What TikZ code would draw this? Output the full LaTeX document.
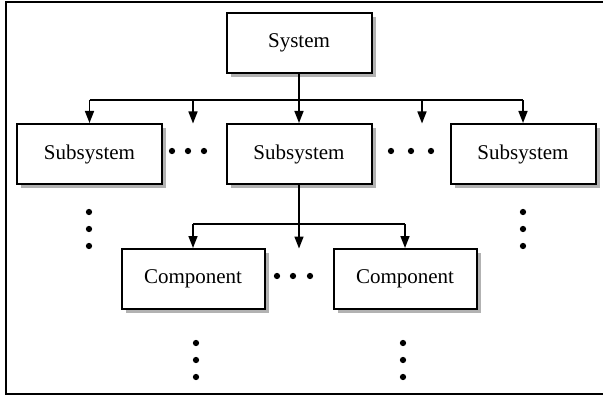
\documentclass[tikz,border=0pt]{standalone}
\usepackage{fontspec}
\setmainfont{Liberation Serif}
\usetikzlibrary{positioning, arrows.meta, shadows}

\tikzset{
  block/.style={draw, line width=2pt, fill=white, minimum width=145pt, minimum height=60pt,
    inner sep=0pt, font=\fontsize{21}{25}\selectfont,
    drop shadow={shadow xshift=4pt, shadow yshift=-4pt, fill=gray!60, opacity=1}},
  link/.style={line width=1.6pt},
  arr/.style={link, -{Triangle[length=12pt,width=9pt]}},
  dot/.style={fill, circle, inner sep=0pt, minimum size=6.3pt}
}

\begin{document}
\begin{tikzpicture}[x=1pt, y=-1pt]
\useasboundingbox (0,0) rectangle (603,396);
% frame (right side runs off the page)
\draw[line width=2pt] (610,2) -- (6,2) -- (6,394) -- (610,394);
% blocks
\node[block] (sys) at (299,43) {System};
\node[block] (sub1) at (89.5,154) {Subsystem};
\node[block] (sub2) at (299,154) {Subsystem};
\node[block] (sub3) at (523,154) {Subsystem};
\node[block, minimum width=143pt] (comp1) at (193,279) {Component};
\node[block, minimum width=143pt] (comp2) at (405,279) {Component};
% bus levels and loose arrow ends
\coordinate (bus1) at (0,100);
\coordinate (bus2) at (0,224);
\coordinate (gap1) at (193,123.5);
\coordinate (gap2) at (422,123.5);
\coordinate (gap3) at (299,248.5);
% system to subsystems
\draw[link] (sys.south) -- (sys.south |- bus1);
\draw[link] (sub1.north |- bus1) -- (sub3.north |- bus1);
\foreach \n in {sub1, sub2, sub3, gap1, gap2}
  \draw[arr] (\n |- bus1) -- (\n);
% subsystem to components
\draw[link] (sub2.south) -- (sub2.south |- bus2);
\draw[link] (comp1.north |- bus2) -- (comp2.north |- bus2);
\foreach \n in {comp1, comp2, gap3}
  \draw[arr] (\n |- bus2) -- (\n);
% dots
\foreach \x in {172,188,204} \node[dot] (ds\x) at (\x,151) {};
\foreach \x in {391,411,431} \node[dot] (dt\x) at (\x,151) {};
\foreach \x in {277,293,310} \node[dot] (dc\x) at (\x,276) {};
\foreach \y in {212,229,246} {
  \node[dot] (dl\y) at (89,\y) {};
  \node[dot] (dr\y) at (523,\y) {};
}
\foreach \y in {343,360,377} {
  \node[dot] (dm\y) at (196,\y) {};
  \node[dot] (dn\y) at (403,\y) {};
}
\end{tikzpicture}
\end{document}
